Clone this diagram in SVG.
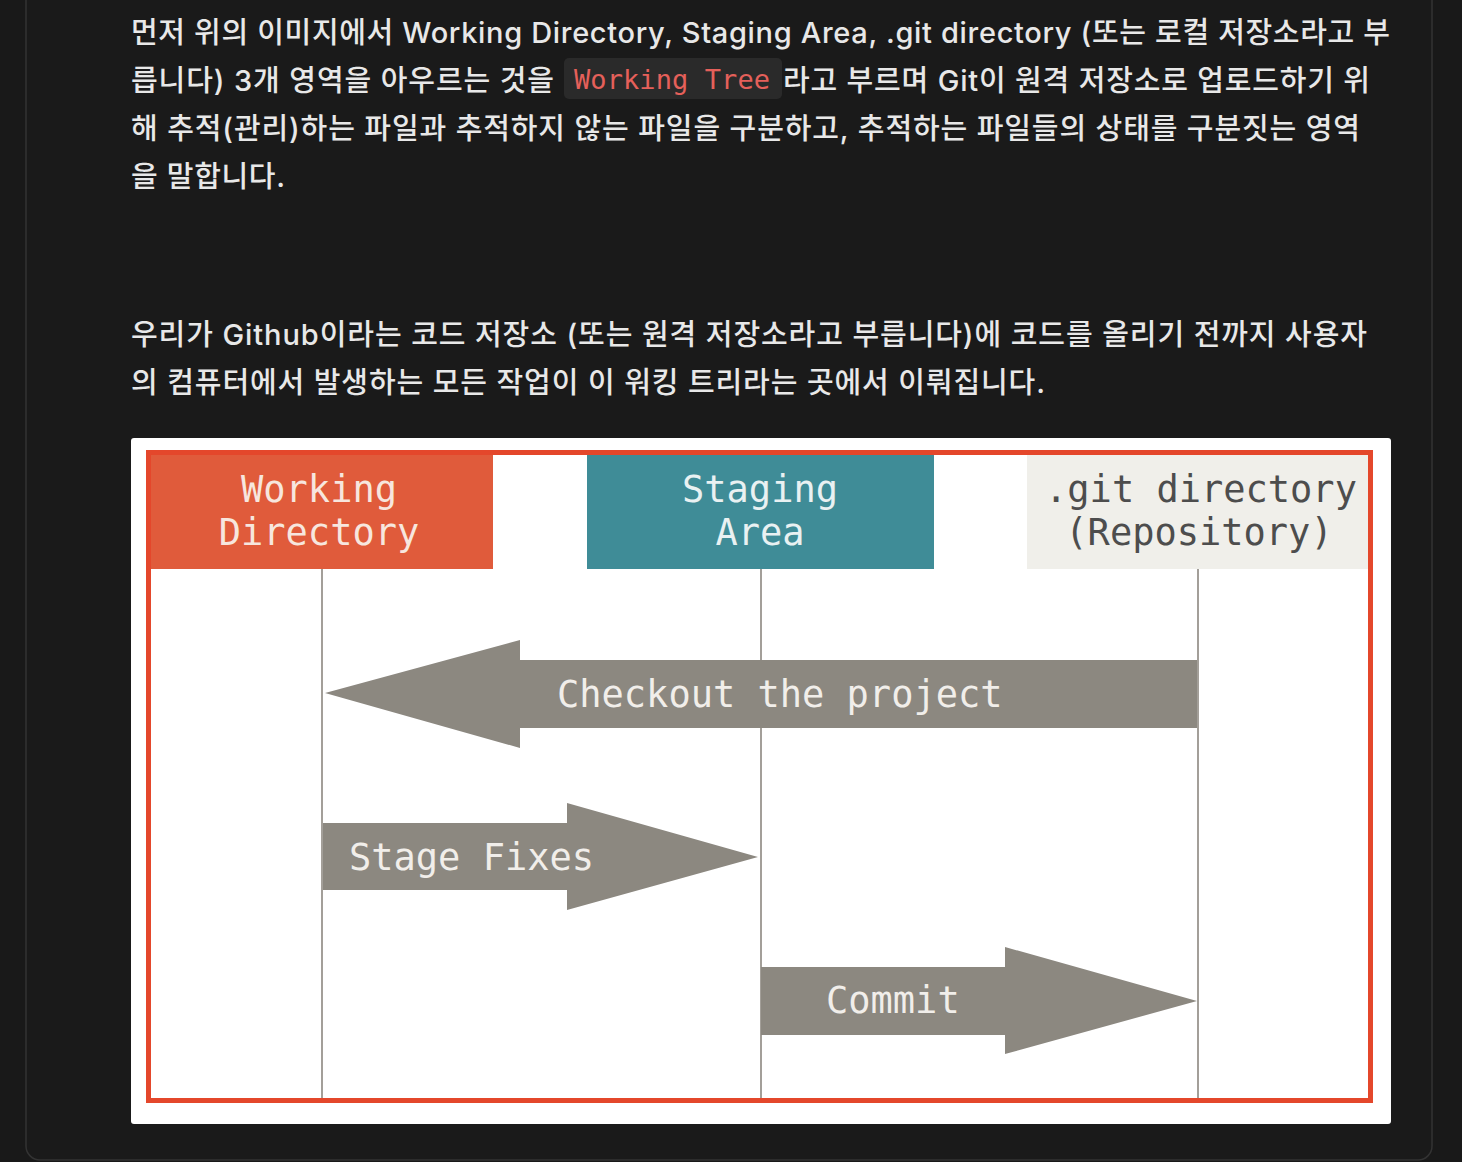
<svg xmlns="http://www.w3.org/2000/svg" width="1462" height="1162" viewBox="0 0 1462 1162">
<style>
.body{font-family:Inter,"Noto Sans CJK KR","Noto Sans",sans-serif;font-size:29px;font-weight:500;fill:#e8e8e8}
.code{font-family:"DejaVu Sans Mono","Liberation Mono",monospace;font-size:27px;fill:#e5605a}
.mono{font-family:"DejaVu Sans Mono","Liberation Mono",monospace;font-size:37px;text-anchor:middle}
.lab{font-family:"DejaVu Sans Mono","Liberation Mono",monospace;font-size:37px;fill:#f1eeea}
.arrow{fill:#8c8880}
.life{stroke:#a39f99;stroke-width:2}
</style>
<rect x="0" y="0" width="1462" height="1162" fill="#191919"/>
<rect x="26" y="-30" width="1406" height="1190" rx="14" fill="#1a1a1a" stroke="#333333" stroke-width="1.5"/>
<g id="text">
<text class="body" x="131" y="43" textLength="1259" lengthAdjust="spacing">먼저 위의 이미지에서 Working Directory, Staging Area, .git directory (또는 로컬 저장소라고 부</text>
<text class="body" x="131" y="91" textLength="423" lengthAdjust="spacing">릅니다) 3개 영역을 아우르는 것을</text>
<rect x="564" y="58" width="218" height="41" rx="5" fill="#2a2a2a"/>
<text class="code" x="574" y="89" textLength="196" lengthAdjust="spacing">Working Tree</text>
<text class="body" x="783" y="91" textLength="587" lengthAdjust="spacing">라고 부르며 Git이 원격 저장소로 업로드하기 위</text>
<text class="body" x="131" y="139" textLength="1229" lengthAdjust="spacing">해 추적(관리)하는 파일과 추적하지 않는 파일을 구분하고, 추적하는 파일들의 상태를 구분짓는 영역</text>
<text class="body" x="131" y="187" textLength="154" lengthAdjust="spacing">을 말합니다.</text>
<text class="body" x="131" y="345" textLength="1236" lengthAdjust="spacing">우리가 Github이라는 코드 저장소 (또는 원격 저장소라고 부릅니다)에 코드를 올리기 전까지 사용자</text>
<text class="body" x="131" y="393" textLength="914" lengthAdjust="spacing">의 컴퓨터에서 발생하는 모든 작업이 이 워킹 트리라는 곳에서 이뤄집니다.</text>
</g>
<rect x="131" y="438" width="1260" height="686" rx="3" fill="#ffffff"/>
<rect x="148.5" y="452.5" width="1222" height="648" fill="none" stroke="#e4472b" stroke-width="5"/>
<g id="working-directory">
<rect x="151" y="455" width="342" height="114" fill="#e05b3b"/>
<text class="mono" x="319" y="502" fill="#f7e6de">Working</text>
<text class="mono" x="319" y="545" fill="#f7e6de">Directory</text>
</g>
<g id="staging-area">
<rect x="587" y="455" width="347" height="114" fill="#3f8c97"/>
<text class="mono" x="760" y="502" fill="#e9f1f2">Staging</text>
<text class="mono" x="760" y="545" fill="#e9f1f2">Area</text>
</g>
<g id="git-directory">
<rect x="1027" y="455" width="341" height="114" fill="#f0efea"/>
<text class="mono" x="1201" y="502" fill="#4d4d4d">.git directory</text>
<text class="mono" x="1199" y="545" fill="#4d4d4d">(Repository)</text>
</g>
<g id="connectors">
<line class="life" x1="322" y1="569" x2="322" y2="1098"/>
<line class="life" x1="761" y1="569" x2="761" y2="1098"/>
<line class="life" x1="1198" y1="569" x2="1198" y2="1098"/>
<g id="checkout">
<polygon class="arrow" points="325,693 520,640 520,660 1197,660 1197,728 520,728 520,748"/>
<text class="lab" x="557" y="707">Checkout the project</text>
</g>
<g id="stage-fixes">
<polygon class="arrow" points="323,823 567,823 567,803 758,857 567,910 567,890 323,890"/>
<text class="lab" x="349" y="870">Stage Fixes</text>
</g>
<g id="commit">
<polygon class="arrow" points="761,967 1005,967 1005,947 1197,1001 1005,1054 1005,1035 761,1035"/>
<text class="lab" x="826" y="1013">Commit</text>
</g>
</g>
</svg>
